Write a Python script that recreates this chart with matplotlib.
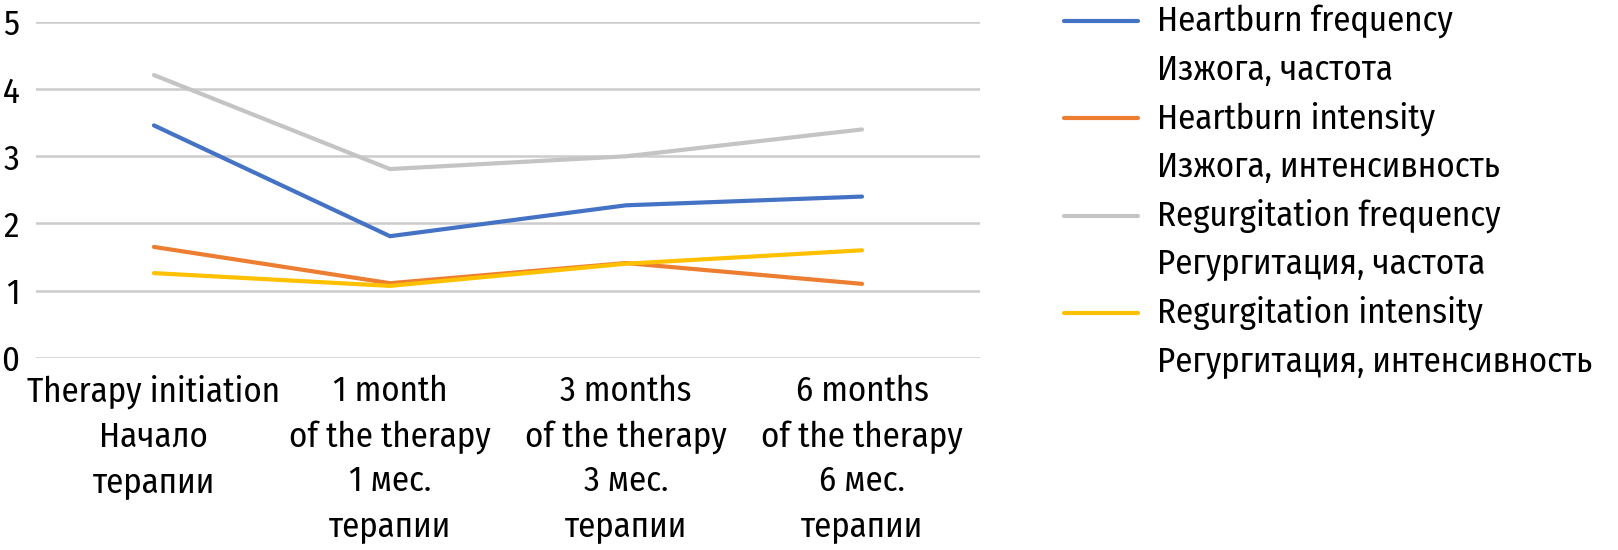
import matplotlib
matplotlib.use("Agg")
import matplotlib.pyplot as plt
from matplotlib.lines import Line2D

plt.rcParams['font.family'] = ['Fira Sans Condensed', 'DejaVu Sans']

categories = [
    "Therapy initiation\nНачало\nтерапии",
    "1 month\nof the therapy\n1 мес.\nтерапии",
    "3 months\nof the therapy\n3 мес.\nтерапии",
    "6 months\nof the therapy\n6 мес.\nтерапии",
]
heartburn_freq = [3.46, 1.81, 2.27, 2.40]
heartburn_int = [1.65, 1.11, 1.41, 1.10]
regurg_freq = [4.21, 2.81, 3.00, 3.40]
regurg_int = [1.26, 1.07, 1.40, 1.60]

series_names = [
    ("Heartburn frequency", "Изжога, частота"),
    ("Heartburn intensity", "Изжога, интенсивность"),
    ("Regurgitation frequency", "Регургитация, частота"),
    ("Regurgitation intensity", "Регургитация, интенсивность"),
]
series_values = [heartburn_freq, heartburn_int, regurg_freq, regurg_int]
colors = ["#4472C4", "#ED7D31", "#C4C4C4", "#FFC000"]
yticks = [0, 1, 2, 3, 4, 5]

FS = 25

fig = plt.figure(figsize=(16.18, 5.5), dpi=100)
ax = fig.add_axes([0.0222, 0.3496, 0.5835, 0.6104])

x = list(range(len(categories)))
for vals, c in zip(series_values, colors):
    ax.plot(x, vals, color=c, lw=3, solid_capstyle='round', zorder=3)

ax.set_xlim(-0.5, len(categories) - 0.5)
ax.set_ylim(0, 5)
ax.set_yticks(yticks)
ax.set_yticklabels([str(t) for t in yticks], fontsize=FS)
ax.set_xticks(x)
ax.set_xticklabels(categories, fontsize=FS, linespacing=1.42)
ax.tick_params(axis='both', length=0)
ax.tick_params(axis='x', pad=12)
ax.tick_params(axis='y', pad=12)
ax.grid(axis='y', color='#CCCCCC', lw=1.8)
ax.set_axisbelow(True)
for s in ax.spines.values():
    s.set_visible(False)

# legend drawn by hand: handle aligned with first line of each label
W, H = 1618, 550
step = 97.3
for i, ((en, ru), c) in enumerate(zip(series_names, colors)):
    yc = 21 + i * step
    fig.add_artist(Line2D([1064 / W, 1138 / W], [1 - yc / H, 1 - yc / H],
                          color=c, lw=3, solid_capstyle='round'))
    fig.text(1157 / W, 1 - yc / H, en, fontsize=FS, va='center', ha='left')
    fig.text(1157 / W, 1 - (yc + 49) / H, ru, fontsize=FS, va='center', ha='left')

fig.savefig("out.png", dpi=100)
